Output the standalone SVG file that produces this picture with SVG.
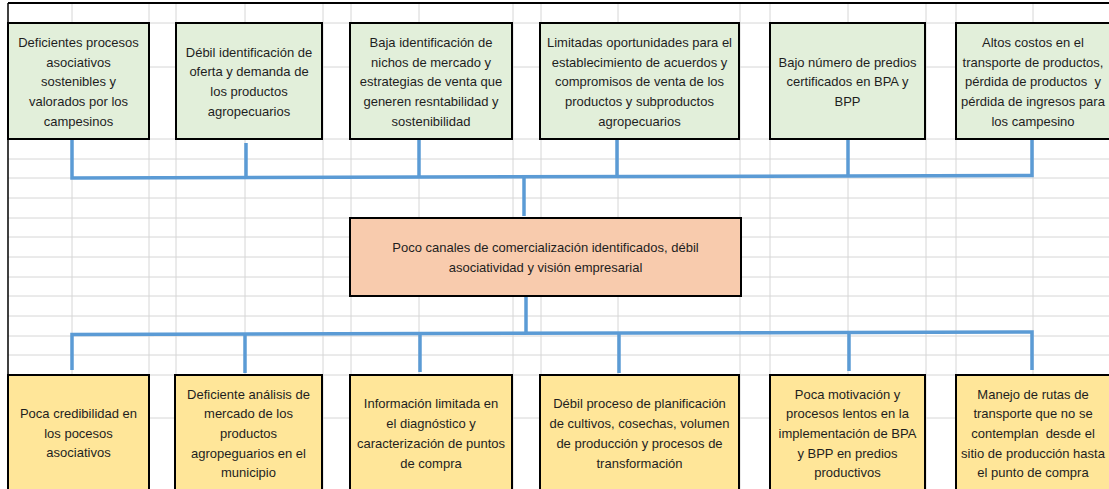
<svg xmlns="http://www.w3.org/2000/svg" width="1109" height="489" viewBox="0 0 1109 489">
<style>
.grid line{stroke:#d6d6d6;stroke-width:1}
.box{stroke:#000;stroke-width:2}
.cause{fill:#e2efda}
.core{fill:#f8cbad}
.effect{fill:#ffe699}
text{font-family:"Liberation Sans",Arial,sans-serif;font-size:13px;fill:#1e1e1e;text-anchor:middle;white-space:pre}
.conn{fill:none;stroke:#5b9bd5;stroke-width:3.5}
</style>
<rect width="1109" height="489" fill="#fff"/>
<g class="grid">
<line x1="72" y1="3" x2="72" y2="489"/><line x1="149" y1="3" x2="149" y2="489"/><line x1="176" y1="3" x2="176" y2="489"/><line x1="245" y1="3" x2="245" y2="489"/><line x1="323" y1="3" x2="323" y2="489"/><line x1="351" y1="3" x2="351" y2="489"/><line x1="419" y1="3" x2="419" y2="489"/><line x1="513" y1="3" x2="513" y2="489"/><line x1="541" y1="3" x2="541" y2="489"/><line x1="618" y1="3" x2="618" y2="489"/><line x1="740" y1="3" x2="740" y2="489"/><line x1="770" y1="3" x2="770" y2="489"/><line x1="848" y1="3" x2="848" y2="489"/><line x1="926" y1="3" x2="926" y2="489"/><line x1="956" y1="3" x2="956" y2="489"/><line x1="1033" y1="3" x2="1033" y2="489"/>
<line x1="8" y1="23" x2="1109" y2="23"/><line x1="8" y1="67" x2="1109" y2="67"/><line x1="8" y1="139" x2="1109" y2="139"/><line x1="8" y1="159" x2="1109" y2="159"/><line x1="8" y1="178" x2="1109" y2="178"/><line x1="8" y1="198" x2="1109" y2="198"/><line x1="8" y1="218" x2="1109" y2="218"/><line x1="8" y1="237" x2="1109" y2="237"/><line x1="8" y1="257" x2="1109" y2="257"/><line x1="8" y1="277" x2="1109" y2="277"/><line x1="8" y1="296" x2="1109" y2="296"/><line x1="8" y1="316" x2="1109" y2="316"/><line x1="8" y1="336" x2="1109" y2="336"/><line x1="8" y1="355" x2="1109" y2="355"/><line x1="8" y1="375" x2="1109" y2="375"/><line x1="8" y1="418" x2="1109" y2="418"/>
</g>
<line x1="8" y1="3" x2="1109" y2="3" stroke="#000" stroke-width="2"/>
<line x1="8" y1="3" x2="8" y2="489" stroke="#000" stroke-width="1.5"/>
<g id="connectors">
<path class="conn" d="M72,139 V178 L1032,175.5 V139"/>
<path class="conn" d="M246,143 V178"/>
<path class="conn" d="M419,137 V178"/>
<path class="conn" d="M617,139 V176"/>
<path class="conn" d="M848,139 V176"/>
<path class="conn" d="M524,178 V216"/>
<path class="conn" d="M526,296 V333"/>
<path class="conn" d="M72,370 V334.5 L1032,332 V370"/>
<path class="conn" d="M245,334 V373"/>
<path class="conn" d="M420,334 V372"/>
<path class="conn" d="M619,333 V373"/>
<path class="conn" d="M849,333 V371"/>
</g>
<g id="cause1"><rect class="box cause" x="8" y="23" width="141" height="116"/>
<text x="78.5"><tspan x="78.5" y="47">Deficientes procesos</tspan><tspan x="78.5" y="66.7">asociativos</tspan><tspan x="78.5" y="86.4">sostenibles y</tspan><tspan x="78.5" y="106.1">valorados por los</tspan><tspan x="78.5" y="125.8">campesinos</tspan></text></g>
<g id="cause2"><rect class="box cause" x="176" y="23" width="146" height="116"/>
<text><tspan x="249" y="56.6">Débil identificación de</tspan><tspan x="249" y="76.3">oferta y demanda de</tspan><tspan x="249" y="96">los productos</tspan><tspan x="249" y="115.7">agropecuarios</tspan></text></g>
<g id="cause3"><rect class="box cause" x="350" y="23" width="162" height="116"/>
<text><tspan x="431" y="47">Baja identificación de</tspan><tspan x="431" y="66.7">nichos de mercado y</tspan><tspan x="431" y="86.4">estrategias de venta que</tspan><tspan x="431" y="106.1">generen resntabilidad y</tspan><tspan x="431" y="125.8">sostenibilidad</tspan></text></g>
<g id="cause4"><rect class="box cause" x="540" y="23" width="199" height="116"/>
<text><tspan x="639.5" y="47">Limitadas oportunidades para el</tspan><tspan x="639.5" y="66.7">establecimiento de acuerdos y</tspan><tspan x="639.5" y="86.4">compromisos de venta de los</tspan><tspan x="639.5" y="106.1">productos y subproductos</tspan><tspan x="639.5" y="125.8">agropecuarios</tspan></text></g>
<g id="cause5"><rect class="box cause" x="770" y="23" width="155" height="116"/>
<text><tspan x="847.5" y="66.5">Bajo número de predios</tspan><tspan x="847.5" y="86.2">certificados en BPA y</tspan><tspan x="847.5" y="105.9">BPP</tspan></text></g>
<g id="cause6"><rect class="box cause" x="956" y="23" width="156" height="116"/>
<text><tspan x="1033" y="47">Altos costos en el</tspan><tspan x="1033" y="66.7">transporte de productos,</tspan><tspan x="1033" y="86.4">pérdida de productos  y</tspan><tspan x="1033" y="106.1">pérdida de ingresos para</tspan><tspan x="1033" y="125.8">los campesino</tspan></text></g>
<g id="core"><rect class="box core" x="350" y="218" width="391" height="78"/>
<text><tspan x="545.5" y="252">Poco canales de comercialización identificados, débil</tspan><tspan x="545.5" y="271.7">asociatividad y visión empresarial</tspan></text></g>
<g id="effect1"><rect class="box effect" x="8" y="375" width="141" height="120"/>
<text><tspan x="78.5" y="418">Poca credibilidad en</tspan><tspan x="78.5" y="437.7">los pocesos</tspan><tspan x="78.5" y="457.4">asociativos</tspan></text></g>
<g id="effect2"><rect class="box effect" x="175" y="375" width="147" height="120"/>
<text><tspan x="248.5" y="398.6">Deficiente análisis de</tspan><tspan x="248.5" y="418.3">mercado de los</tspan><tspan x="248.5" y="438">productos</tspan><tspan x="248.5" y="457.7">agropeguarios en el</tspan><tspan x="248.5" y="477.4">municipio</tspan></text></g>
<g id="effect3"><rect class="box effect" x="350" y="375" width="162" height="120"/>
<text><tspan x="431" y="408.4">Información limitada en</tspan><tspan x="431" y="428.1">el diagnóstico y</tspan><tspan x="431" y="447.8">caracterización de puntos</tspan><tspan x="431" y="467.5">de compra</tspan></text></g>
<g id="effect4"><rect class="box effect" x="540" y="375" width="199" height="120"/>
<text><tspan x="639.5" y="408.4">Débil proceso de planificación</tspan><tspan x="639.5" y="428.1">de cultivos, cosechas, volumen</tspan><tspan x="639.5" y="447.8">de producción y procesos de</tspan><tspan x="639.5" y="467.5">transformación</tspan></text></g>
<g id="effect5"><rect class="box effect" x="770" y="375" width="155" height="120"/>
<text><tspan x="847.5" y="398.6">Poca motivación y</tspan><tspan x="847.5" y="418.3">procesos lentos en la</tspan><tspan x="847.5" y="438">implementación de BPA</tspan><tspan x="847.5" y="457.7">y BPP en predios</tspan><tspan x="847.5" y="477.4">productivos</tspan></text></g>
<g id="effect6"><rect class="box effect" x="956" y="375" width="156" height="120"/>
<text><tspan x="1033" y="398.6">Manejo de rutas de</tspan><tspan x="1033" y="418.3">transporte que no se</tspan><tspan x="1033" y="438">contemplan  desde el</tspan><tspan x="1033" y="457.7">sitio de producción hasta</tspan><tspan x="1033" y="477.4">el punto de compra</tspan></text></g>
</svg>
